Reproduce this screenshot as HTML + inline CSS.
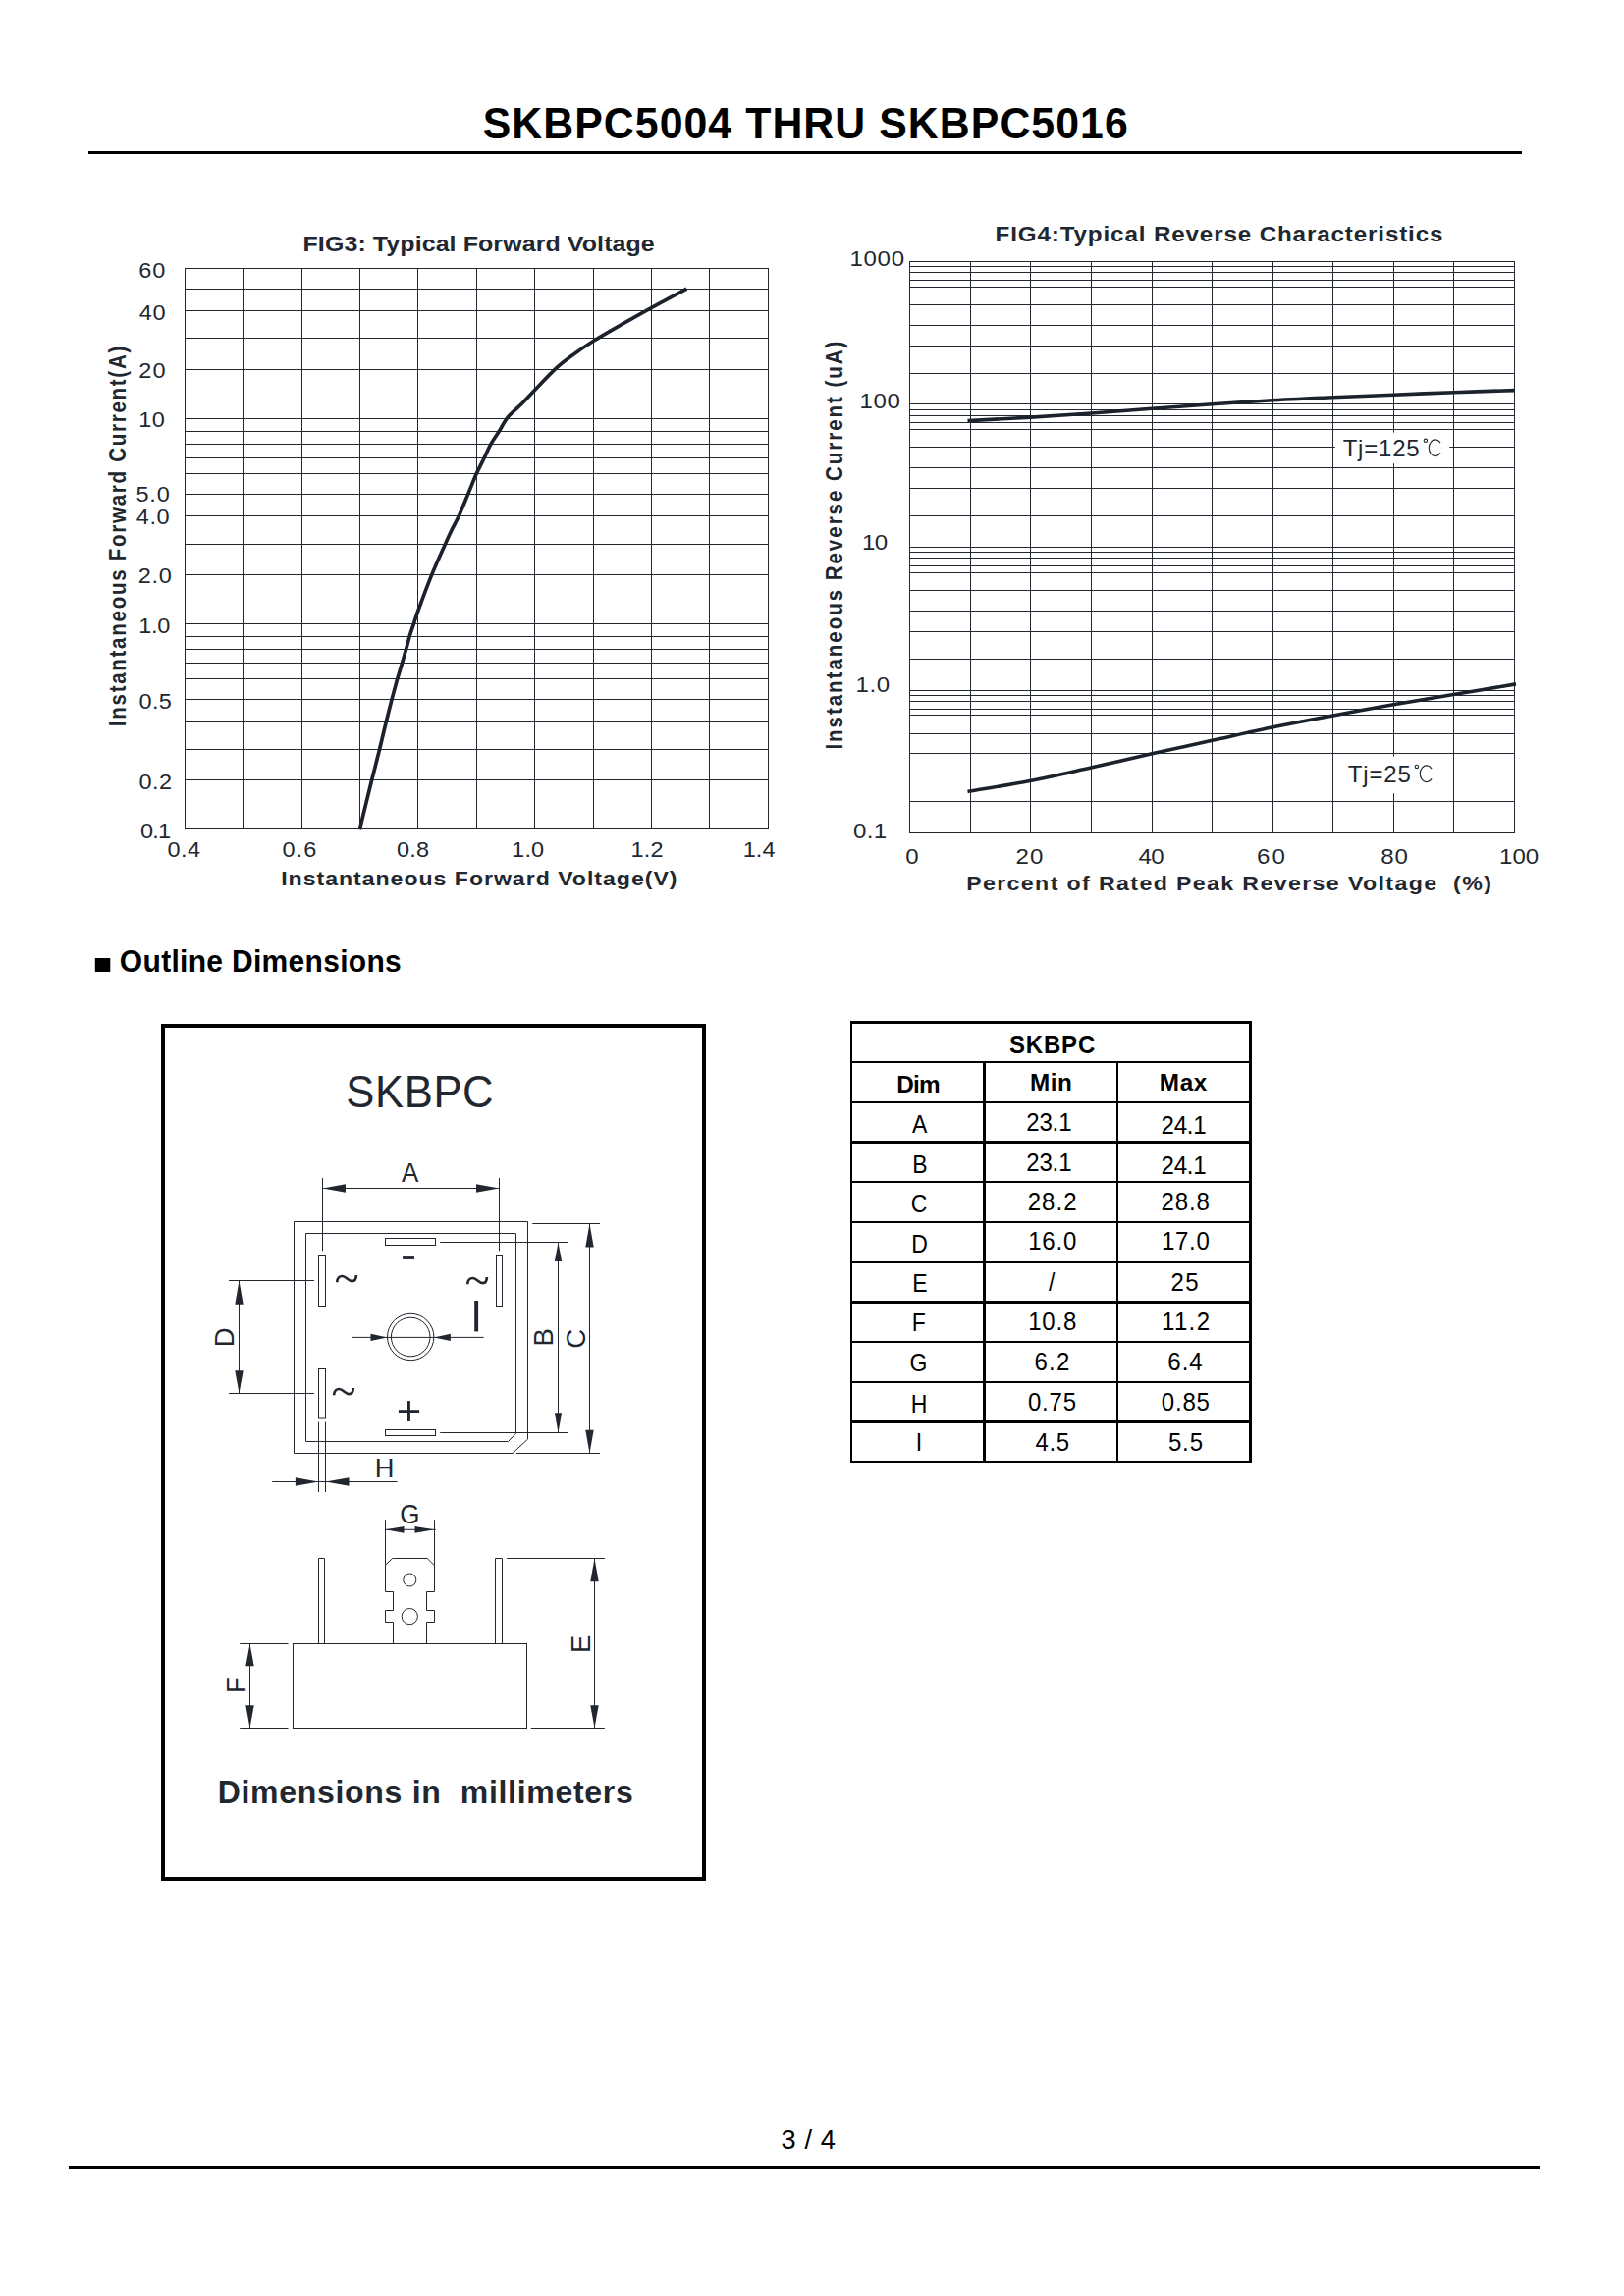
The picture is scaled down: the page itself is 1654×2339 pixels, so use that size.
<!DOCTYPE html>
<html><head><meta charset="utf-8"><title>SKBPC5004 THRU SKBPC5016</title>
<style>
html,body{margin:0;padding:0;background:#fff;}
body{width:1654px;height:2339px;overflow:hidden;font-family:"Liberation Sans",sans-serif;}
svg{display:block;position:absolute;left:0;top:0;}
svg text{font-family:"Liberation Sans",sans-serif;white-space:pre;}
</style></head><body>
<svg width="1654" height="2339" viewBox="0 0 1654 2339">
<text xml:space="preserve" transform="translate(491.67,141.30) scale(1.0,1.04)" font-size="42.8" font-weight="700" fill="#000" textLength="657.08" lengthAdjust="spacing">SKBPC5004 THRU SKBPC5016</text>
<rect x="90" y="154" width="1460" height="3" fill="#000"/>
<text xml:space="preserve" transform="translate(795.46,2188.70) scale(1.0,1.04)" font-size="27.2" fill="#000" textLength="55.53" lengthAdjust="spacing">3 / 4</text>
<rect x="70" y="2207" width="1498" height="3" fill="#000"/>
<rect x="188.00" y="273.00" width="1" height="572.00" fill="#22272f"/>
<rect x="247.00" y="273.00" width="1" height="572.00" fill="#22272f"/>
<rect x="307.00" y="273.00" width="1" height="572.00" fill="#22272f"/>
<rect x="366.00" y="273.00" width="1" height="572.00" fill="#22272f"/>
<rect x="425.00" y="273.00" width="1" height="572.00" fill="#22272f"/>
<rect x="485.00" y="273.00" width="1" height="572.00" fill="#22272f"/>
<rect x="544.00" y="273.00" width="1" height="572.00" fill="#22272f"/>
<rect x="604.00" y="273.00" width="1" height="572.00" fill="#22272f"/>
<rect x="663.00" y="273.00" width="1" height="572.00" fill="#22272f"/>
<rect x="722.00" y="273.00" width="1" height="572.00" fill="#22272f"/>
<rect x="782.00" y="273.00" width="1" height="572.00" fill="#22272f"/>
<rect x="188.00" y="273.00" width="595.00" height="1" fill="#22272f"/>
<rect x="188.00" y="294.00" width="595.00" height="1" fill="#22272f"/>
<rect x="188.00" y="316.00" width="595.00" height="1" fill="#22272f"/>
<rect x="188.00" y="344.00" width="595.00" height="1" fill="#22272f"/>
<rect x="188.00" y="376.00" width="595.00" height="1" fill="#22272f"/>
<rect x="188.00" y="426.00" width="595.00" height="1" fill="#22272f"/>
<rect x="188.00" y="439.00" width="595.00" height="1" fill="#22272f"/>
<rect x="188.00" y="452.00" width="595.00" height="1" fill="#22272f"/>
<rect x="188.00" y="466.00" width="595.00" height="1" fill="#22272f"/>
<rect x="188.00" y="482.00" width="595.00" height="1" fill="#22272f"/>
<rect x="188.00" y="503.00" width="595.00" height="1" fill="#22272f"/>
<rect x="188.00" y="525.00" width="595.00" height="1" fill="#22272f"/>
<rect x="188.00" y="554.00" width="595.00" height="1" fill="#22272f"/>
<rect x="188.00" y="585.00" width="595.00" height="1" fill="#22272f"/>
<rect x="188.00" y="635.00" width="595.00" height="1" fill="#22272f"/>
<rect x="188.00" y="648.00" width="595.00" height="1" fill="#22272f"/>
<rect x="188.00" y="661.00" width="595.00" height="1" fill="#22272f"/>
<rect x="188.00" y="675.00" width="595.00" height="1" fill="#22272f"/>
<rect x="188.00" y="691.00" width="595.00" height="1" fill="#22272f"/>
<rect x="188.00" y="712.00" width="595.00" height="1" fill="#22272f"/>
<rect x="188.00" y="735.00" width="595.00" height="1" fill="#22272f"/>
<rect x="188.00" y="763.00" width="595.00" height="1" fill="#22272f"/>
<rect x="188.00" y="794.00" width="595.00" height="1" fill="#22272f"/>
<rect x="188.00" y="844.00" width="595.00" height="1" fill="#22272f"/>
<path d="M366.3,845.2 C368.4,836.8 375.3,808.1 378.7,794.5 C382.1,780.9 384.2,773.2 386.6,763.3 C389.0,753.4 391.2,743.8 393.3,735.3 C395.4,726.8 397.2,719.6 399.1,712.3 C401.0,705.0 403.1,697.5 404.8,691.3 C406.6,685.1 408.2,680.2 409.6,675.2 C411.1,670.2 412.2,666.1 413.5,661.6 C414.8,657.1 415.9,652.7 417.2,648.3 C418.5,643.9 420.1,639.5 421.5,635.4 C422.9,631.3 422.3,631.8 425.4,623.5 C428.4,615.2 435.1,596.9 439.8,585.4 C444.5,573.9 450.0,562.1 453.4,554.5 C456.8,546.9 457.6,544.9 460.0,540.0 C462.4,535.1 464.7,531.3 467.5,525.2 C470.3,519.1 473.6,510.8 476.6,503.6 C479.6,496.5 482.6,488.5 485.4,482.3 C488.2,476.1 490.8,471.5 493.2,466.5 C495.6,461.5 497.4,456.9 499.9,452.4 C502.4,447.9 505.3,444.2 508.2,439.6 C511.1,435.0 513.4,429.6 517.3,424.9 C521.2,420.2 526.9,415.9 531.5,411.3 C536.1,406.7 539.0,403.2 544.8,397.2 C550.6,391.2 560.0,381.0 566.4,375.1 C572.8,369.2 576.6,366.5 583.0,361.9 C589.4,357.3 596.3,352.5 604.6,347.3 C612.9,342.1 623.1,336.3 632.9,330.7 C642.7,325.1 652.2,319.7 663.3,313.6 C674.4,307.5 693.4,297.4 699.4,294.1" fill="none" stroke="#1c222b" stroke-width="3.7"/>
<text xml:space="preserve" transform="translate(308.53,255.80) scale(1.12,1.02)" font-size="22.3" font-weight="700" fill="#22272f" textLength="319.84" lengthAdjust="spacing">FIG3: Typical Forward Voltage</text>
<text xml:space="preserve" transform="translate(141.21,282.80) scale(1.12,1.04)" font-size="21" fill="#22272f" textLength="24.30" lengthAdjust="spacing">60</text>
<text xml:space="preserve" transform="translate(141.86,325.90) scale(1.12,1.04)" font-size="21" fill="#22272f" textLength="23.89" lengthAdjust="spacing">40</text>
<text xml:space="preserve" transform="translate(141.22,384.50) scale(1.12,1.04)" font-size="21" fill="#22272f" textLength="24.47" lengthAdjust="spacing">20</text>
<text xml:space="preserve" transform="translate(141.31,434.80) scale(1.12,1.04)" font-size="21" fill="#22272f" textLength="23.76" lengthAdjust="spacing">10</text>
<text xml:space="preserve" transform="translate(138.46,511.10) scale(1.12,1.04)" font-size="21" fill="#22272f" textLength="30.68" lengthAdjust="spacing">5.0</text>
<text xml:space="preserve" transform="translate(138.86,534.00) scale(1.12,1.04)" font-size="21" fill="#22272f" textLength="30.05" lengthAdjust="spacing">4.0</text>
<text xml:space="preserve" transform="translate(140.72,594.20) scale(1.12,1.04)" font-size="21" fill="#22272f" textLength="30.45" lengthAdjust="spacing">2.0</text>
<text xml:space="preserve" transform="translate(141.31,645.40) scale(1.12,1.04)" font-size="21" fill="#22272f" textLength="28.67" lengthAdjust="spacing">1.0</text>
<text xml:space="preserve" transform="translate(141.48,722.30) scale(1.12,1.04)" font-size="21" fill="#22272f" textLength="29.83" lengthAdjust="spacing">0.5</text>
<text xml:space="preserve" transform="translate(141.48,803.50) scale(1.12,1.04)" font-size="21" fill="#22272f" textLength="30.00" lengthAdjust="spacing">0.2</text>
<text xml:space="preserve" transform="translate(142.88,854.00) scale(1.12,1.04)" font-size="21" fill="#22272f" textLength="27.83" lengthAdjust="spacing">0.1</text>
<text xml:space="preserve" transform="translate(170.48,873.30) scale(1.12,1.04)" font-size="21" fill="#22272f" textLength="30.01" lengthAdjust="spacing">0.4</text>
<text xml:space="preserve" transform="translate(287.48,873.30) scale(1.12,1.04)" font-size="21" fill="#22272f" textLength="31.03" lengthAdjust="spacing">0.6</text>
<text xml:space="preserve" transform="translate(403.98,873.30) scale(1.12,1.04)" font-size="21" fill="#22272f" textLength="29.68" lengthAdjust="spacing">0.8</text>
<text xml:space="preserve" transform="translate(521.11,873.30) scale(1.12,1.04)" font-size="21" fill="#22272f" textLength="29.56" lengthAdjust="spacing">1.0</text>
<text xml:space="preserve" transform="translate(642.61,873.30) scale(1.12,1.04)" font-size="21" fill="#22272f" textLength="29.35" lengthAdjust="spacing">1.2</text>
<text xml:space="preserve" transform="translate(756.71,873.30) scale(1.12,1.04)" font-size="21" fill="#22272f" textLength="29.27" lengthAdjust="spacing">1.4</text>
<text xml:space="preserve" transform="translate(286.16,901.90) scale(1.12,1.02)" font-size="20.6" font-weight="700" fill="#22272f" textLength="360.08" lengthAdjust="spacing">Instantaneous Forward Voltage(V)</text>
<text xml:space="preserve" transform="translate(128.00,740.18) rotate(-90) scale(1,1.12)" font-size="20.6" font-weight="700" fill="#22272f" textLength="387.50" lengthAdjust="spacing">Instantaneous Forward Current(A)</text>
<rect x="926.00" y="266.00" width="1" height="583.00" fill="#22272f"/>
<rect x="988.00" y="266.00" width="1" height="583.00" fill="#22272f"/>
<rect x="1049.00" y="266.00" width="1" height="583.00" fill="#22272f"/>
<rect x="1111.00" y="266.00" width="1" height="583.00" fill="#22272f"/>
<rect x="1173.00" y="266.00" width="1" height="583.00" fill="#22272f"/>
<rect x="1234.00" y="266.00" width="1" height="583.00" fill="#22272f"/>
<rect x="1296.00" y="266.00" width="1" height="583.00" fill="#22272f"/>
<rect x="1357.00" y="266.00" width="1" height="583.00" fill="#22272f"/>
<rect x="1419.00" y="266.00" width="1" height="583.00" fill="#22272f"/>
<rect x="1480.00" y="266.00" width="1" height="583.00" fill="#22272f"/>
<rect x="1542.00" y="266.00" width="1" height="583.00" fill="#22272f"/>
<rect x="926.00" y="266.00" width="617.00" height="1" fill="#22272f"/>
<rect x="926.00" y="271.00" width="617.00" height="1" fill="#22272f"/>
<rect x="926.00" y="277.00" width="617.00" height="1" fill="#22272f"/>
<rect x="926.00" y="285.00" width="617.00" height="1" fill="#22272f"/>
<rect x="926.00" y="292.00" width="617.00" height="1" fill="#22272f"/>
<rect x="926.00" y="310.00" width="617.00" height="1" fill="#22272f"/>
<rect x="926.00" y="331.00" width="617.00" height="1" fill="#22272f"/>
<rect x="926.00" y="352.00" width="617.00" height="1" fill="#22272f"/>
<rect x="926.00" y="380.00" width="617.00" height="1" fill="#22272f"/>
<rect x="926.00" y="411.00" width="617.00" height="1" fill="#22272f"/>
<rect x="926.00" y="417.00" width="617.00" height="1" fill="#22272f"/>
<rect x="926.00" y="423.00" width="617.00" height="1" fill="#22272f"/>
<rect x="926.00" y="430.00" width="617.00" height="1" fill="#22272f"/>
<rect x="926.00" y="437.00" width="617.00" height="1" fill="#22272f"/>
<rect x="926.00" y="455.00" width="617.00" height="1" fill="#22272f"/>
<rect x="926.00" y="476.00" width="617.00" height="1" fill="#22272f"/>
<rect x="926.00" y="497.00" width="617.00" height="1" fill="#22272f"/>
<rect x="926.00" y="525.00" width="617.00" height="1" fill="#22272f"/>
<rect x="926.00" y="557.00" width="617.00" height="1" fill="#22272f"/>
<rect x="926.00" y="562.00" width="617.00" height="1" fill="#22272f"/>
<rect x="926.00" y="568.00" width="617.00" height="1" fill="#22272f"/>
<rect x="926.00" y="576.00" width="617.00" height="1" fill="#22272f"/>
<rect x="926.00" y="583.00" width="617.00" height="1" fill="#22272f"/>
<rect x="926.00" y="601.00" width="617.00" height="1" fill="#22272f"/>
<rect x="926.00" y="622.00" width="617.00" height="1" fill="#22272f"/>
<rect x="926.00" y="643.00" width="617.00" height="1" fill="#22272f"/>
<rect x="926.00" y="671.00" width="617.00" height="1" fill="#22272f"/>
<rect x="926.00" y="703.00" width="617.00" height="1" fill="#22272f"/>
<rect x="926.00" y="708.00" width="617.00" height="1" fill="#22272f"/>
<rect x="926.00" y="714.00" width="617.00" height="1" fill="#22272f"/>
<rect x="926.00" y="722.00" width="617.00" height="1" fill="#22272f"/>
<rect x="926.00" y="728.00" width="617.00" height="1" fill="#22272f"/>
<rect x="926.00" y="747.00" width="617.00" height="1" fill="#22272f"/>
<rect x="926.00" y="767.00" width="617.00" height="1" fill="#22272f"/>
<rect x="926.00" y="788.00" width="617.00" height="1" fill="#22272f"/>
<rect x="926.00" y="816.00" width="617.00" height="1" fill="#22272f"/>
<rect x="926.00" y="848.00" width="617.00" height="1" fill="#22272f"/>
<path d="M985.5,428.6 C996.2,428.0 1028.8,426.4 1049.8,425.1 C1070.8,423.8 1090.9,422.5 1111.5,421.0 C1132.1,419.5 1152.7,417.7 1173.2,416.2 C1193.7,414.7 1214.0,413.2 1234.5,411.8 C1255.0,410.4 1275.7,409.0 1296.2,407.8 C1316.7,406.6 1337.0,405.7 1357.5,404.8 C1378.0,403.9 1398.6,403.1 1419.2,402.2 C1439.8,401.3 1460.3,400.5 1480.9,399.7 C1501.5,398.9 1532.7,398.0 1543.0,397.6" fill="none" stroke="#1c222b" stroke-width="3.6"/>
<path d="M985.5,806.4 C996.1,804.6 1028.1,799.6 1049.0,795.5 C1069.9,791.4 1090.3,786.6 1111.0,782.0 C1131.7,777.4 1152.7,772.4 1173.3,767.8 C1193.9,763.2 1214.0,758.8 1234.5,754.3 C1255.0,749.8 1276.1,744.9 1296.6,740.7 C1317.1,736.5 1337.2,732.7 1357.6,728.9 C1378.0,725.1 1398.8,721.4 1419.2,717.8 C1439.7,714.2 1459.5,711.0 1480.3,707.5 C1501.1,704.0 1533.4,698.7 1544.0,696.9" fill="none" stroke="#1c222b" stroke-width="3.6"/>
<rect x="1359.8" y="440.6" width="116.5" height="31.6" fill="#fff"/>
<rect x="1360.8" y="770.6" width="113.5" height="37.6" fill="#fff"/>
<text xml:space="preserve" transform="translate(1367.66,464.80) scale(1.0,1.02)" font-size="24" fill="#22272f" textLength="78.05" lengthAdjust="spacing">Tj=125</text>
<text xml:space="preserve" transform="translate(1372.76,796.60) scale(1.0,1.02)" font-size="24" fill="#22272f" textLength="64.15" lengthAdjust="spacing">Tj=25</text>
<circle cx="1451.9" cy="448.8" r="1.7" fill="none" stroke="#22272f" stroke-width="1.1"/>
<path d="M1467.01,451.11 A6.55,8.35 0 1 0 1467.01,461.39" fill="none" stroke="#22272f" stroke-width="1.15"/>
<circle cx="1442.9" cy="780.9" r="1.7" fill="none" stroke="#22272f" stroke-width="1.1"/>
<path d="M1458.10,783.11 A6.60,8.35 0 1 0 1458.10,793.39" fill="none" stroke="#22272f" stroke-width="1.15"/>
<text xml:space="preserve" transform="translate(1013.58,245.70) scale(1.12,1.02)" font-size="21.6" font-weight="700" fill="#22272f" textLength="407.06" lengthAdjust="spacing">FIG4:Typical Reverse Characteristics</text>
<text xml:space="preserve" transform="translate(865.57,271.40) scale(1.12,1.04)" font-size="21.5" fill="#22272f" textLength="49.53" lengthAdjust="spacing">1000</text>
<text xml:space="preserve" transform="translate(875.57,416.20) scale(1.12,1.04)" font-size="21.5" fill="#22272f" textLength="36.94" lengthAdjust="spacing">100</text>
<text xml:space="preserve" transform="translate(877.97,560.00) scale(1.12,1.04)" font-size="21.5" fill="#22272f" textLength="23.46" lengthAdjust="spacing">10</text>
<text xml:space="preserve" transform="translate(871.47,705.30) scale(1.12,1.04)" font-size="21.5" fill="#22272f" textLength="31.05" lengthAdjust="spacing">1.0</text>
<text xml:space="preserve" transform="translate(868.96,853.80) scale(1.12,1.04)" font-size="21.5" fill="#22272f" textLength="30.46" lengthAdjust="spacing">0.1</text>
<text xml:space="preserve" transform="translate(922.16,880.20) scale(1.12,1.04)" font-size="21.5" fill="#22272f" textLength="11.32" lengthAdjust="spacing">0</text>
<text xml:space="preserve" transform="translate(1034.49,880.20) scale(1.12,1.04)" font-size="21.5" fill="#22272f" textLength="24.96" lengthAdjust="spacing">20</text>
<text xml:space="preserve" transform="translate(1159.45,880.20) scale(1.12,1.04)" font-size="21.5" fill="#22272f" textLength="23.39" lengthAdjust="spacing">40</text>
<text xml:space="preserve" transform="translate(1280.08,880.20) scale(1.12,1.04)" font-size="21.5" fill="#22272f" textLength="25.77" lengthAdjust="spacing">60</text>
<text xml:space="preserve" transform="translate(1406.35,880.20) scale(1.12,1.04)" font-size="21.5" fill="#22272f" textLength="24.63" lengthAdjust="spacing">80</text>
<text xml:space="preserve" transform="translate(1526.97,880.20) scale(1.12,1.04)" font-size="21.5" fill="#22272f" textLength="35.96" lengthAdjust="spacing">100</text>
<text xml:space="preserve" transform="translate(984.15,907.00) scale(1.12,1.02)" font-size="20.7" font-weight="700" fill="#22272f" textLength="477.42" lengthAdjust="spacing">Percent of Rated Peak Reverse Voltage  (%)</text>
<text xml:space="preserve" transform="translate(857.60,763.58) rotate(-90) scale(1,1.12)" font-size="20.6" font-weight="700" fill="#22272f" textLength="416.00" lengthAdjust="spacing">Instantaneous Reverse Current (uA)</text>
<rect x="96.8" y="976" width="15.5" height="14" fill="#000"/>
<text xml:space="preserve" transform="translate(121.87,990.30) scale(1.0,1.02)" font-size="30" font-weight="700" fill="#000" textLength="286.86" lengthAdjust="spacing">Outline Dimensions</text>
<rect x="166" y="1045" width="551" height="869" fill="none" stroke="#000" stroke-width="4"/>
<text xml:space="preserve" transform="translate(352.32,1128.40) scale(1.0,1.04)" font-size="43.6" fill="#22272f" textLength="150.24" lengthAdjust="spacing">SKBPC</text>
<path d="M299.50,1244.50 L537.50,1244.50 L537.50,1466.20 L522.00,1480.50 L299.50,1480.50 Z" fill="none" stroke="#22272f" stroke-width="1"/>
<path d="M311.50,1256.50 L525.50,1256.50 L525.50,1460.20 L517.50,1468.50 L311.50,1468.50 Z" fill="none" stroke="#22272f" stroke-width="1"/>
<rect x="392.50" y="1261.50" width="51.00" height="7.00" fill="none" stroke="#22272f" stroke-width="1"/>
<rect x="392.50" y="1456.50" width="51.00" height="6.00" fill="none" stroke="#22272f" stroke-width="1"/>
<rect x="324.50" y="1279.50" width="7.00" height="51.00" fill="none" stroke="#22272f" stroke-width="1"/>
<rect x="505.50" y="1279.50" width="6.00" height="51.00" fill="none" stroke="#22272f" stroke-width="1"/>
<rect x="324.50" y="1394.50" width="7.00" height="50.50" fill="none" stroke="#22272f" stroke-width="1"/>
<rect x="324.00" y="1448.50" width="1" height="71.50" fill="#22272f"/>
<rect x="331.00" y="1448.50" width="1" height="71.50" fill="#22272f"/>
<rect x="328.00" y="1200.00" width="1" height="74.30" fill="#22272f"/>
<rect x="508.00" y="1200.00" width="1" height="74.30" fill="#22272f"/>
<rect x="328.50" y="1210.00" width="180.00" height="1" fill="#22272f"/>
<path d="M328.50,1210.50 L352.00,1206.30 L352.00,1214.70 Z" fill="#22272f"/>
<path d="M508.50,1210.50 L485.00,1214.70 L485.00,1206.30 Z" fill="#22272f"/>
<text xml:space="preserve" transform="translate(417.60,1204.20) scale(1.0,1.04)" text-anchor="middle" font-size="26" fill="#22272f">A</text>
<rect x="410.1" y="1280.1" width="11.9" height="2.8" fill="#22272f"/>
<rect x="483.2" y="1325.0" width="3.9" height="31.4" fill="#22272f"/>
<rect x="405.9" y="1436.2" width="21.2" height="2.8" fill="#22272f"/>
<rect x="415.0" y="1427.1" width="2.9" height="20.9" fill="#22272f"/>
<path d="M343.20,1306.30 C343.30,1301.80 346.00,1299.95 348.60,1300.00 C352.20,1300.10 354.80,1305.20 358.50,1305.20 C361.50,1305.20 362.80,1303.00 362.90,1299.00" fill="none" stroke="#22272f" stroke-width="2.7"/>
<path d="M476.20,1308.30 C476.30,1303.80 479.00,1301.95 481.60,1302.00 C485.20,1302.10 487.80,1307.20 491.50,1307.20 C494.50,1307.20 495.80,1305.00 495.90,1301.00" fill="none" stroke="#22272f" stroke-width="2.7"/>
<path d="M340.10,1421.30 C340.20,1416.80 342.90,1414.95 345.50,1415.00 C349.10,1415.10 351.70,1420.20 355.40,1420.20 C358.40,1420.20 359.70,1418.00 359.80,1414.00" fill="none" stroke="#22272f" stroke-width="2.7"/>
<circle cx="418.2" cy="1362.0" r="23.7" fill="none" stroke="#22272f" stroke-width="1"/>
<circle cx="418.2" cy="1362.0" r="19.8" fill="none" stroke="#22272f" stroke-width="1"/>
<rect x="358.00" y="1361.90" width="134.60" height="1" fill="#22272f"/>
<path d="M394.50,1362.40 L377.50,1366.00 L377.50,1358.80 Z" fill="#22272f"/>
<path d="M441.90,1362.40 L458.90,1358.80 L458.90,1366.00 Z" fill="#22272f"/>
<rect x="233.10" y="1304.00" width="86.90" height="1" fill="#22272f"/>
<rect x="233.10" y="1419.00" width="86.90" height="1" fill="#22272f"/>
<rect x="243.00" y="1304.50" width="1" height="115.00" fill="#22272f"/>
<path d="M243.50,1304.50 L247.70,1328.80 L239.30,1328.80 Z" fill="#22272f"/>
<path d="M243.50,1419.50 L239.30,1396.20 L247.70,1396.20 Z" fill="#22272f"/>
<text xml:space="preserve" transform="translate(237.75,1362.40) rotate(-90)" text-anchor="middle" font-size="27.5" fill="#22272f">D</text>
<rect x="448.20" y="1265.00" width="130.60" height="1" fill="#22272f"/>
<rect x="448.20" y="1459.00" width="130.60" height="1" fill="#22272f"/>
<rect x="568.00" y="1265.50" width="1" height="194.00" fill="#22272f"/>
<path d="M568.50,1265.50 L572.10,1285.00 L564.90,1285.00 Z" fill="#22272f"/>
<path d="M568.50,1459.50 L564.90,1439.20 L572.10,1439.20 Z" fill="#22272f"/>
<text xml:space="preserve" transform="translate(563.45,1362.40) rotate(-90)" text-anchor="middle" font-size="27.5" fill="#22272f">B</text>
<rect x="542.20" y="1246.00" width="68.80" height="1" fill="#22272f"/>
<rect x="525.90" y="1480.00" width="85.10" height="1" fill="#22272f"/>
<rect x="600.00" y="1246.50" width="1" height="234.00" fill="#22272f"/>
<path d="M600.50,1246.50 L604.70,1270.50 L596.30,1270.50 Z" fill="#22272f"/>
<path d="M600.50,1480.50 L596.30,1456.70 L604.70,1456.70 Z" fill="#22272f"/>
<text xml:space="preserve" transform="translate(595.95,1363.70) rotate(-90)" text-anchor="middle" font-size="27.5" fill="#22272f">C</text>
<rect x="277.20" y="1509.00" width="127.40" height="1" fill="#22272f"/>
<path d="M324.50,1509.50 L300.90,1513.70 L300.90,1505.30 Z" fill="#22272f"/>
<path d="M331.50,1509.50 L355.50,1505.30 L355.50,1513.70 Z" fill="#22272f"/>
<text xml:space="preserve" transform="translate(391.70,1504.80) scale(1.0,1.04)" text-anchor="middle" font-size="27.3" fill="#22272f">H</text>
<rect x="298.50" y="1674.50" width="238.00" height="86.00" fill="none" stroke="#22272f" stroke-width="1"/>
<path d="M324.50,1674.50 L324.50,1587.50 L330.50,1587.50 L330.50,1674.50" fill="none" stroke="#22272f" stroke-width="1"/>
<path d="M504.50,1674.50 L504.50,1587.50 L511.50,1587.50 L511.50,1674.50" fill="none" stroke="#22272f" stroke-width="1"/>
<path d="M400.50,1674.50 L400.50,1652.50 L392.50,1652.50 L392.50,1640.50 L400.50,1640.50 L400.50,1621.50 L392.50,1621.50 L392.50,1594.30 L399.70,1587.50 L435.20,1587.50 L442.50,1594.80 L442.50,1621.50 L434.50,1621.50 L434.50,1640.50 L442.50,1640.50 L442.50,1652.50 L434.50,1652.50 L434.50,1674.50" fill="none" stroke="#22272f" stroke-width="1"/>
<circle cx="417.3" cy="1609.5" r="6.5" fill="none" stroke="#22272f" stroke-width="1"/>
<circle cx="417.3" cy="1646.6" r="8.1" fill="none" stroke="#22272f" stroke-width="1"/>
<rect x="392.00" y="1548.20" width="1" height="46.10" fill="#22272f"/>
<rect x="442.00" y="1548.20" width="1" height="46.60" fill="#22272f"/>
<rect x="392.50" y="1557.80" width="51.30" height="1" fill="#22272f"/>
<path d="M392.50,1558.30 L411.50,1554.90 L411.50,1561.70 Z" fill="#22272f"/>
<path d="M442.50,1558.30 L422.50,1561.70 L422.50,1554.90 Z" fill="#22272f"/>
<text xml:space="preserve" transform="translate(417.30,1552.30) scale(1.0,1.04)" text-anchor="middle" font-size="26" fill="#22272f">G</text>
<rect x="516.20" y="1587.00" width="99.70" height="1" fill="#22272f"/>
<rect x="540.80" y="1760.00" width="75.10" height="1" fill="#22272f"/>
<rect x="605.00" y="1587.50" width="1" height="173.00" fill="#22272f"/>
<path d="M605.50,1587.50 L609.70,1611.30 L601.30,1611.30 Z" fill="#22272f"/>
<path d="M605.50,1760.50 L601.30,1737.20 L609.70,1737.20 Z" fill="#22272f"/>
<text xml:space="preserve" transform="translate(600.75,1674.80) rotate(-90)" text-anchor="middle" font-size="27.5" fill="#22272f">E</text>
<rect x="244.20" y="1674.00" width="49.30" height="1" fill="#22272f"/>
<rect x="244.20" y="1760.00" width="49.30" height="1" fill="#22272f"/>
<rect x="254.00" y="1674.50" width="1" height="86.00" fill="#22272f"/>
<path d="M254.50,1674.50 L258.70,1697.20 L250.30,1697.20 Z" fill="#22272f"/>
<path d="M254.50,1760.50 L250.30,1737.20 L258.70,1737.20 Z" fill="#22272f"/>
<text xml:space="preserve" transform="translate(249.65,1716.70) rotate(-90)" text-anchor="middle" font-size="27.5" fill="#22272f">F</text>
<text xml:space="preserve" transform="translate(221.66,1837.30) scale(1.0,1.02)" font-size="32" font-weight="700" fill="#22272f" textLength="423.15" lengthAdjust="spacing">Dimensions in  millimeters</text>
<rect x="866" y="1040" width="409" height="3" fill="#000"/>
<rect x="866" y="1081" width="409" height="2" fill="#000"/>
<rect x="866" y="1122" width="409" height="2" fill="#000"/>
<rect x="866" y="1162" width="409" height="3" fill="#000"/>
<rect x="866" y="1203" width="409" height="2" fill="#000"/>
<rect x="866" y="1244" width="409" height="2" fill="#000"/>
<rect x="866" y="1285" width="409" height="2" fill="#000"/>
<rect x="866" y="1325" width="409" height="3" fill="#000"/>
<rect x="866" y="1366" width="409" height="2" fill="#000"/>
<rect x="866" y="1407" width="409" height="2" fill="#000"/>
<rect x="866" y="1447" width="409" height="3" fill="#000"/>
<rect x="866" y="1488" width="409" height="2" fill="#000"/>
<rect x="866" y="1040" width="2" height="450" fill="#000"/>
<rect x="1001" y="1082" width="3" height="408" fill="#000"/>
<rect x="1137" y="1082" width="2" height="408" fill="#000"/>
<rect x="1272" y="1040" width="3" height="450" fill="#000"/>
<text xml:space="preserve" transform="translate(1028.01,1072.60) scale(1.0,1.04)" font-size="24" font-weight="700" fill="#000" textLength="87.25" lengthAdjust="spacing">SKBPC</text>
<text xml:space="preserve" transform="translate(913.17,1112.70) scale(1.0,1.02)" font-size="24.3" font-weight="700" fill="#000" textLength="44.43" lengthAdjust="spacing">Dim</text>
<text xml:space="preserve" transform="translate(1048.97,1110.60) scale(1.0,1.02)" font-size="24.3" font-weight="700" fill="#000" textLength="42.83" lengthAdjust="spacing">Min</text>
<text xml:space="preserve" transform="translate(1180.87,1110.60) scale(1.0,1.02)" font-size="24.3" font-weight="700" fill="#000" textLength="48.40" lengthAdjust="spacing">Max</text>
<text xml:space="preserve" transform="translate(936.55,1153.60) scale(0.96,1.04)" text-anchor="middle" font-size="24" fill="#000">A</text>
<text xml:space="preserve" transform="translate(1045.29,1151.80) scale(1.0,1.04)" font-size="24" fill="#000" textLength="46.18" lengthAdjust="spacing">23.1</text>
<text xml:space="preserve" transform="translate(1182.59,1154.90) scale(1.0,1.04)" font-size="24" fill="#000" textLength="46.08" lengthAdjust="spacing">24.1</text>
<text xml:space="preserve" transform="translate(936.90,1194.60) scale(0.96,1.04)" text-anchor="middle" font-size="24" fill="#000">B</text>
<text xml:space="preserve" transform="translate(1045.29,1193.20) scale(1.0,1.04)" font-size="24" fill="#000" textLength="46.18" lengthAdjust="spacing">23.1</text>
<text xml:space="preserve" transform="translate(1182.59,1195.60) scale(1.0,1.04)" font-size="24" fill="#000" textLength="46.08" lengthAdjust="spacing">24.1</text>
<text xml:space="preserve" transform="translate(936.00,1234.80) scale(0.96,1.04)" text-anchor="middle" font-size="24" fill="#000">C</text>
<text xml:space="preserve" transform="translate(1046.69,1232.80) scale(1.0,1.04)" font-size="24" fill="#000" textLength="49.81" lengthAdjust="spacing">28.2</text>
<text xml:space="preserve" transform="translate(1182.59,1232.80) scale(1.0,1.04)" font-size="24" fill="#000" textLength="49.25" lengthAdjust="spacing">28.8</text>
<text xml:space="preserve" transform="translate(936.55,1275.50) scale(0.96,1.04)" text-anchor="middle" font-size="24" fill="#000">D</text>
<text xml:space="preserve" transform="translate(1047.17,1273.40) scale(1.0,1.04)" font-size="24" fill="#000" textLength="49.07" lengthAdjust="spacing">16.0</text>
<text xml:space="preserve" transform="translate(1182.97,1273.40) scale(1.0,1.04)" font-size="24" fill="#000" textLength="48.77" lengthAdjust="spacing">17.0</text>
<text xml:space="preserve" transform="translate(936.85,1316.20) scale(0.96,1.04)" text-anchor="middle" font-size="24" fill="#000">E</text>
<text xml:space="preserve" transform="translate(1071.30,1314.70) scale(0.96,1.04)" text-anchor="middle" font-size="24" fill="#000">/</text>
<text xml:space="preserve" transform="translate(1192.39,1314.70) scale(1.0,1.04)" font-size="24" fill="#000" textLength="28.31" lengthAdjust="spacing">25</text>
<text xml:space="preserve" transform="translate(935.75,1356.40) scale(0.96,1.04)" text-anchor="middle" font-size="24" fill="#000">F</text>
<text xml:space="preserve" transform="translate(1047.17,1355.40) scale(1.0,1.04)" font-size="24" fill="#000" textLength="49.17" lengthAdjust="spacing">10.8</text>
<text xml:space="preserve" transform="translate(1182.97,1355.40) scale(1.0,1.04)" font-size="24" fill="#000" textLength="49.04" lengthAdjust="spacing">11.2</text>
<text xml:space="preserve" transform="translate(935.50,1397.40) scale(0.96,1.04)" text-anchor="middle" font-size="24" fill="#000">G</text>
<text xml:space="preserve" transform="translate(1053.48,1395.50) scale(1.0,1.04)" font-size="24" fill="#000" textLength="35.93" lengthAdjust="spacing">6.2</text>
<text xml:space="preserve" transform="translate(1189.28,1395.50) scale(1.0,1.04)" font-size="24" fill="#000" textLength="35.42" lengthAdjust="spacing">6.4</text>
<text xml:space="preserve" transform="translate(936.05,1438.70) scale(0.96,1.04)" text-anchor="middle" font-size="24" fill="#000">H</text>
<text xml:space="preserve" transform="translate(1046.96,1436.60) scale(1.0,1.04)" font-size="24" fill="#000" textLength="49.05" lengthAdjust="spacing">0.75</text>
<text xml:space="preserve" transform="translate(1182.86,1436.60) scale(1.0,1.04)" font-size="24" fill="#000" textLength="48.95" lengthAdjust="spacing">0.85</text>
<text xml:space="preserve" transform="translate(935.90,1478.30) scale(0.96,1.04)" text-anchor="middle" font-size="24" fill="#000">I</text>
<text xml:space="preserve" transform="translate(1054.55,1477.70) scale(1.0,1.04)" font-size="24" fill="#000" textLength="34.66" lengthAdjust="spacing">4.5</text>
<text xml:space="preserve" transform="translate(1189.94,1477.70) scale(1.0,1.04)" font-size="24" fill="#000" textLength="35.07" lengthAdjust="spacing">5.5</text>
</svg>
</body></html>
